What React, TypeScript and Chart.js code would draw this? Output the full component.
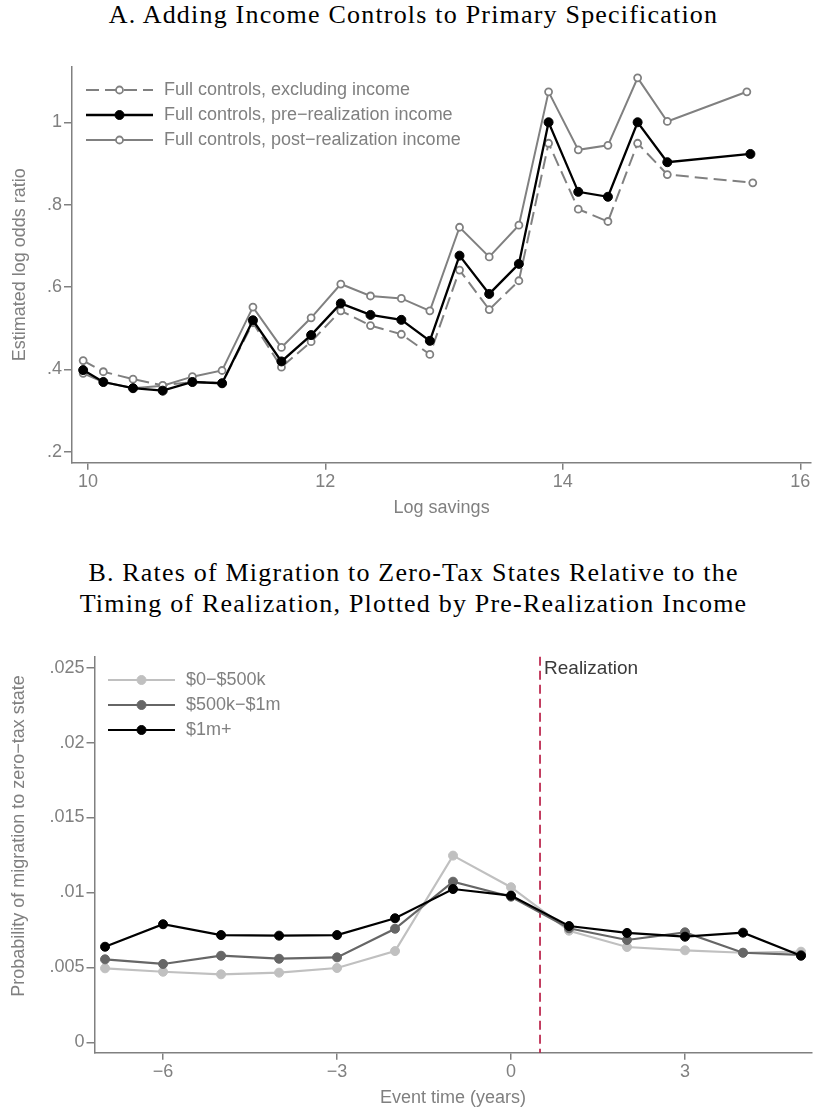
import React, { useEffect, useRef } from 'react';
import { Chart, registerables } from 'chart.js';

Chart.register(...registerables);

// ---------- Panel A data ----------
const savingsBins = [9.96, 10.13, 10.38, 10.63, 10.88, 11.13, 11.39, 11.63, 11.88, 12.13, 12.38, 12.64, 12.88, 13.13, 13.38, 13.63, 13.88, 14.13, 14.38, 14.63, 14.88];
const lastBinExcl = 15.6;
const lastBinPre = 15.58;
const lastBinPost = 15.55;
const exclIncome = [0.421, 0.394, 0.376, 0.361, 0.369, 0.366, 0.513, 0.405, 0.467, 0.542, 0.506, 0.485, 0.436, 0.641, 0.545, 0.615, 0.949, 0.789, 0.759, 0.949, 0.873, 0.853];
const preIncome = [0.398, 0.369, 0.354, 0.348, 0.369, 0.366, 0.519, 0.419, 0.483, 0.56, 0.532, 0.52, 0.469, 0.676, 0.583, 0.656, 1.0, 0.831, 0.819, 1.0, 0.903, 0.923];
const postIncome = [0.39, 0.369, 0.354, 0.36, 0.382, 0.397, 0.551, 0.453, 0.525, 0.607, 0.578, 0.572, 0.542, 0.745, 0.673, 0.75, 1.074, 0.933, 0.944, 1.108, 1.002, 1.074];
const aYTicks = [0.2, 0.4, 0.6, 0.8, 1];
const aXTicks = [10, 12, 14, 16];

// ---------- Panel B data ----------
const eventTimes = [-7, -6, -5, -4, -3, -2, -1, 0, 1, 2, 3, 4, 5];
const inc0to500k = [0.00494, 0.00471, 0.00454, 0.00465, 0.00496, 0.00609, 0.01246, 0.01035, 0.00745, 0.00636, 0.00614, 0.00598, 0.00605];
const inc500kto1m = [0.00554, 0.00523, 0.00578, 0.00558, 0.00567, 0.00758, 0.01072, 0.00972, 0.00761, 0.00683, 0.00734, 0.00598, 0.00583];
const inc1mPlus = [0.00638, 0.00788, 0.00716, 0.00712, 0.00716, 0.00828, 0.01023, 0.00979, 0.00776, 0.0073, 0.00705, 0.00732, 0.00578];
const bYTicks = [0, 0.005, 0.01, 0.015, 0.02, 0.025];
const bXTicks = [-6, -3, 0, 3];
const realizationTime = 0.5;

const GRAY = '#808080';
const SANS = '"Liberation Sans", Arial, sans-serif';

const toPoints = (xs: number[], ys: number[], lastX?: number) =>
  ys.map((y, i) => ({ x: i < xs.length ? xs[i] : (lastX as number), y }));

const fmtDec = (v: number) => {
  if (v === 0) return '0';
  if (v === 1) return '1';
  return String(v).replace(/^0/, '');
};
const fmtInt = (v: number) => (v < 0 ? '\u2212' + Math.abs(v) : String(v));

const lineLegend = {
  id: 'lineLegend',
  afterDraw(chart: any, _a: any, opts: any) {
    if (!opts || !opts.display) return;
    const { ctx, chartArea } = chart;
    ctx.save();
    chart.data.datasets.forEach((ds: any, i: number) => {
      const y = chartArea.top + opts.top + i * opts.gap;
      const x0 = chartArea.left + opts.lineStart;
      const x1 = chartArea.left + opts.lineEnd;
      ctx.beginPath();
      ctx.setLineDash(ds.borderDash || []);
      ctx.strokeStyle = ds.borderColor;
      ctx.lineWidth = ds.borderWidth;
      ctx.moveTo(x0, y);
      ctx.lineTo(x1, y);
      ctx.stroke();
      ctx.setLineDash([]);
      ctx.beginPath();
      ctx.arc((x0 + x1) / 2, y, ds.pointRadius, 0, Math.PI * 2);
      ctx.fillStyle = ds.pointBackgroundColor;
      ctx.fill();
      ctx.lineWidth = ds.pointBorderWidth;
      ctx.strokeStyle = ds.pointBorderColor;
      ctx.stroke();
      ctx.fillStyle = opts.color;
      ctx.font = opts.font;
      ctx.textBaseline = 'middle';
      ctx.textAlign = 'left';
      ctx.fillText(ds.label, chartArea.left + opts.textX, y);
    });
    ctx.restore();
  },
};

const eventLine = {
  id: 'eventLine',
  beforeDatasetsDraw(chart: any, _a: any, opts: any) {
    if (!opts || !opts.display) return;
    const { ctx, chartArea, scales } = chart;
    const x = scales.x.getPixelForValue(opts.value);
    ctx.save();
    ctx.beginPath();
    ctx.setLineDash([9, 5]);
    ctx.strokeStyle = opts.color;
    ctx.lineWidth = 1.6;
    ctx.moveTo(x, chartArea.top);
    ctx.lineTo(x, chartArea.bottom);
    ctx.stroke();
    ctx.setLineDash([]);
    ctx.fillStyle = opts.textColor;
    ctx.font = opts.font;
    ctx.textBaseline = 'middle';
    ctx.textAlign = 'left';
    ctx.fillText(opts.text, x + 4, chartArea.top + 12.5);
    ctx.restore();
  },
};

const sideTitle = {
  id: 'sideTitle',
  afterDraw(chart: any, _a: any, opts: any) {
    if (!opts || !opts.display) return;
    const { ctx } = chart;
    ctx.save();
    ctx.translate(opts.x, opts.y);
    ctx.rotate(-Math.PI / 2);
    ctx.fillStyle = opts.color;
    ctx.font = opts.font;
    ctx.textAlign = 'center';
    ctx.textBaseline = 'middle';
    ctx.fillText(opts.text, 0, 0);
    ctx.restore();
  },
};

function axisCommon() {
  return {
    border: { display: true, color: GRAY, width: 1.5 },
    grid: { drawOnChartArea: false, drawTicks: true, tickLength: 8, color: GRAY, lineWidth: 1.5 },
  };
}

function buildA(): any {
  const hollow = (dash: number[]) => ({
    borderColor: GRAY,
    borderWidth: 2,
    borderDash: dash,
    pointRadius: 3.5,
    pointBorderWidth: 1.8,
    pointBorderColor: GRAY,
    pointBackgroundColor: '#ffffff',
    tension: 0,
    fill: false,
  });
  return {
    type: 'line',
    data: {
      datasets: [
        { label: 'Full controls, excluding income', data: toPoints(savingsBins, exclIncome, lastBinExcl), order: 1, ...hollow([13, 6]) },
        {
          label: 'Full controls, pre\u2212realization income',
          data: toPoints(savingsBins, preIncome, lastBinPre),
          order: 0,
          borderColor: '#000000',
          borderWidth: 2.3,
          borderDash: [],
          pointRadius: 4.5,
          pointBorderWidth: 1,
          pointBorderColor: '#000000',
          pointBackgroundColor: '#000000',
          tension: 0,
          fill: false,
        },
        { label: 'Full controls, post\u2212realization income', data: toPoints(savingsBins, postIncome, lastBinPost), order: 2, ...hollow([]) },
      ],
    },
    options: {
      responsive: false,
      animation: false,
      events: [],
      layout: { padding: { top: 16.7, right: 1, bottom: 0, left: 0 } },
      scales: {
        x: {
          type: 'linear',
          min: 9.866,
          max: 16.092,
          ...axisCommon(),
          grid: { drawOnChartArea: false, drawTicks: true, tickLength: 7, color: GRAY, lineWidth: 1.5 },
          afterBuildTicks: (s: any) => { s.ticks = aXTicks.map((v) => ({ value: v })); },
          afterFit: (s: any) => { s.height = 67.3; },
          ticks: { color: GRAY, font: { family: SANS, size: 18 }, padding: 1.5, maxRotation: 0, callback: (v: any) => fmtInt(v) },
          title: { display: true, text: 'Log savings', color: GRAY, font: { family: SANS, size: 18 }, padding: { top: 0, bottom: 11.2 } },
        },
        y: {
          type: 'linear',
          min: 0.173,
          max: 1.135,
          ...axisCommon(),
          afterBuildTicks: (s: any) => { s.ticks = aYTicks.map((v) => ({ value: v })); },
          afterFit: (s: any) => { s.width = 72; },
          ticks: { color: GRAY, font: { family: SANS, size: 18 }, padding: 2, callback: (v: any) => fmtDec(v) },
          title: { display: true, text: 'Estimated log odds ratio', color: GRAY, font: { family: SANS, size: 18 }, padding: { top: 9.2, bottom: 0 } },
        },
      },
      plugins: {
        legend: { display: false },
        tooltip: { enabled: false },
        lineLegend: { display: true, top: 23.3, gap: 25, lineStart: 14, lineEnd: 81, textX: 92, color: GRAY, font: `18px ${SANS}` },
      },
    },
    plugins: [lineLegend],
  };
}

function buildB(): any {
  const filled = (c: string) => ({
    borderColor: c,
    borderWidth: 2.2,
    borderDash: [],
    pointRadius: 4.5,
    pointBorderWidth: 1,
    pointBorderColor: c,
    pointBackgroundColor: c,
    tension: 0,
    fill: false,
  });
  return {
    type: 'line',
    data: {
      datasets: [
        { label: '$0\u2212$500k', data: toPoints(eventTimes, inc0to500k), order: 2, ...filled('#c0c0c0') },
        { label: '$500k\u2212$1m', data: toPoints(eventTimes, inc500kto1m), order: 1, ...filled('#666666') },
        { label: '$1m+', data: toPoints(eventTimes, inc1mPlus), order: 0, ...filled('#000000') },
      ],
    },
    options: {
      responsive: false,
      animation: false,
      events: [],
      layout: { padding: { top: 26.7, right: 1, bottom: 0, left: 0 } },
      scales: {
        x: {
          type: 'linear',
          min: -7.182,
          max: 5.181,
          ...axisCommon(),
          grid: { drawOnChartArea: false, drawTicks: true, tickLength: 7, color: GRAY, lineWidth: 1.5 },
          afterBuildTicks: (s: any) => { s.ticks = bXTicks.map((v) => ({ value: v })); },
          afterFit: (s: any) => { s.height = 59.3; },
          ticks: { color: GRAY, font: { family: SANS, size: 18 }, padding: 1.5, maxRotation: 0, callback: (v: any) => fmtInt(v) },
          title: { display: true, text: 'Event time (years)', color: GRAY, font: { family: SANS, size: 18 }, padding: { top: 0, bottom: 3.2 } },
        },
        y: {
          type: 'linear',
          min: -0.00069,
          max: 0.02573,
          ...axisCommon(),
          afterBuildTicks: (s: any) => { s.ticks = bYTicks.map((v) => ({ value: v })); },
          afterFit: (s: any) => { s.width = 94.5; },
          ticks: { color: GRAY, font: { family: SANS, size: 18 }, padding: 2, callback: (v: any) => fmtDec(v) },
          title: { display: false },
        },
      },
      plugins: {
        legend: { display: false },
        tooltip: { enabled: false },
        lineLegend: { display: true, top: 23.3, gap: 25, lineStart: 13.5, lineEnd: 80.5, textX: 91.5, color: GRAY, font: `18px ${SANS}` },
        eventLine: { display: true, value: realizationTime, color: '#b5123d', text: 'Realization', textColor: '#3a3a3a', font: `19px ${SANS}` },
        sideTitle: { display: true, x: 19, y: 206, text: 'Probability of migration to zero\u2212tax state', color: GRAY, font: `18px ${SANS}` },
      },
    },
    plugins: [lineLegend, eventLine, sideTitle],
  };
}

function ChartCanvas({ build, width, height, top }: { build: () => any; width: number; height: number; top: number }) {
  const ref = useRef<HTMLCanvasElement | null>(null);
  useEffect(() => {
    if (!ref.current) return;
    const chart = new Chart(ref.current, build());
    return () => chart.destroy();
  }, [build]);
  return (
    <canvas
      ref={ref}
      width={width}
      height={height}
      style={{ position: 'absolute', left: 0, top, width, height, display: 'block' }}
    />
  );
}

const titleStyle: React.CSSProperties = {
  position: 'absolute',
  left: 5,
  width: 817,
  textAlign: 'center',
  fontFamily: '"Liberation Serif", "Times New Roman", serif',
  fontSize: 26,
  lineHeight: '31px',
  letterSpacing: '1.2px',
  color: '#000',
  whiteSpace: 'nowrap',
};

export default function App() {
  return (
    <div style={{ position: 'absolute', left: 0, top: 0, width: 817, height: 1112, background: '#fff', overflow: 'hidden' }}>
      <div style={{ ...titleStyle, top: -1 }}>A. Adding Income Controls to Primary Specification</div>
      <ChartCanvas build={buildA} width={817} height={480} top={50} />
      <div style={{ ...titleStyle, top: 557 }}>
        B. Rates of Migration to Zero-Tax States Relative to the
        <br />
        Timing of Realization, Plotted by Pre-Realization Income
      </div>
      <ChartCanvas build={buildB} width={817} height={482} top={630} />
    </div>
  );
}
